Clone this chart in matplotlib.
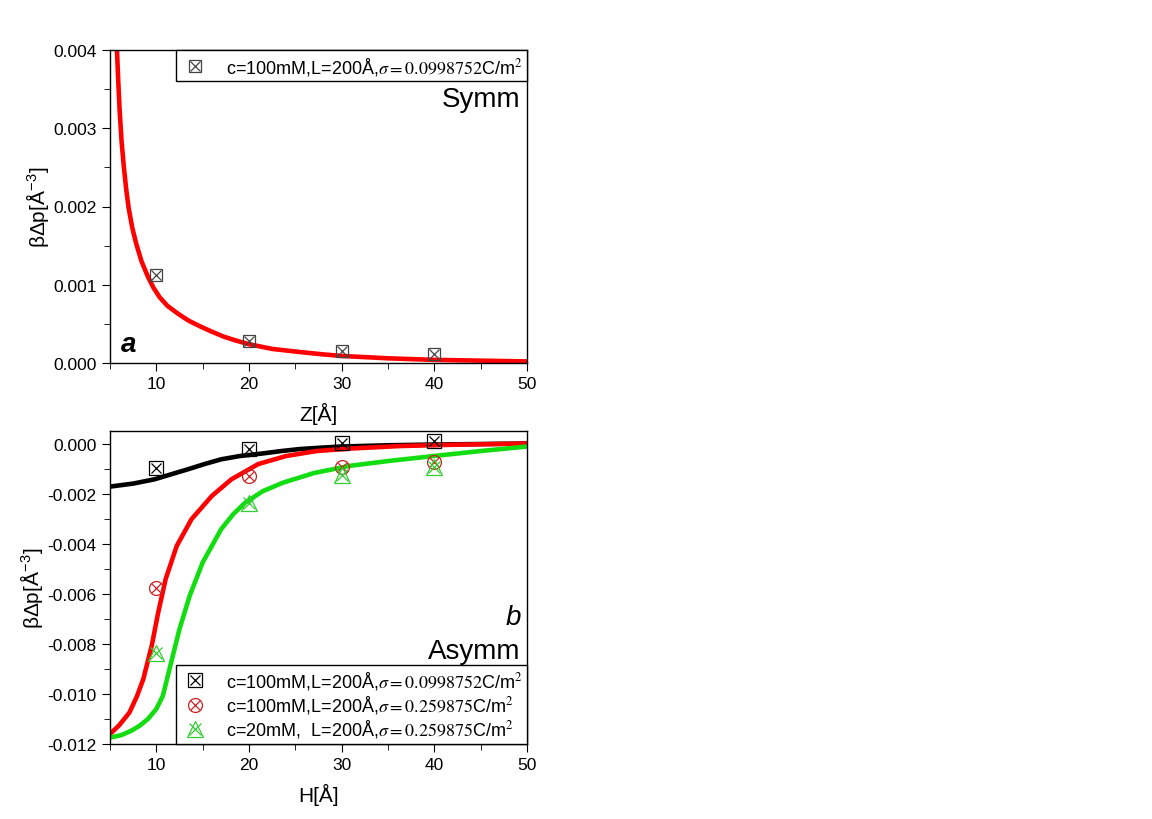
import matplotlib
matplotlib.use("Agg")
import matplotlib.pyplot as plt
from matplotlib.ticker import MultipleLocator, FormatStrFormatter
from matplotlib.legend_handler import HandlerTuple

plt.rcParams['font.family'] = ['Liberation Sans', 'DejaVu Sans']
plt.rcParams['mathtext.fontset'] = 'stix'

# panel a: symmetric
sym_H = [10, 20, 30, 40]
sym_p = [0.00113, 0.000285, 0.000153, 0.000115]
sym_fit_z = [5.75, 5.9, 6.04, 6.25, 6.5, 6.75, 7.0, 7.4, 7.84, 8.4, 9.1, 9.7, 10.36,
             11.2, 12.34, 13.5, 14.87, 16.0, 17.2, 18.5, 20.0, 22.5, 25.5, 28, 30,
             35, 40, 45, 50]
sym_fit_p = [0.0040, 0.00358, 0.00323, 0.00283, 0.0025, 0.00222, 0.00199, 0.00173,
             0.00152, 0.0013, 0.0011, 0.00096, 0.00084, 0.00073, 0.00063, 0.00054,
             0.00046, 0.0004, 0.00034, 0.00029, 0.00024, 0.00018, 0.00014, 0.00011,
             0.00009, 0.00006, 0.00004, 0.00003, 0.00002]

# panel b: asymmetric
asy_H = [10, 20, 30, 40]
black_p = [-0.00099, -0.00023, 0.00004, 0.0001]
red_p = [-0.00575, -0.00129, -0.00093, -0.00073]
green_p = [-0.00837, -0.00236, -0.00127, -0.00093]

black_fit_h = [5, 7.5, 9.8, 11.5, 13.4, 15.2, 17.0, 19.0, 21.4, 23.5, 25.5, 28,
               30, 35, 40, 50]
black_fit_p = [-0.00172, -0.0016, -0.00143, -0.00124, -0.00103, -0.00082, -0.00063,
               -0.0005, -0.0004, -0.0003, -0.00022, -0.00016, -0.00012, -0.00007,
               -0.00004, 0.0]

red_fit_h = [5, 6.0, 7.1, 7.9, 8.6, 9.5, 10.2, 11.0, 12.2, 13.8, 16.0, 18.1, 21.0,
             24, 27.3, 31, 36.3, 42, 50]
red_fit_p = [-0.0116, -0.01125, -0.01074, -0.0101, -0.0094, -0.00808, -0.00675,
             -0.00542, -0.00409, -0.00302, -0.00209, -0.00143, -0.00082,
             -0.0005, -0.0003, -0.0002, -0.0001, -0.00005, 0.0]

green_fit_h = [5, 6.2, 7.3, 8.2, 9.1, 10.0, 10.7, 11.6, 12.5, 13.6, 15.0, 17.0, 18.3,
               19.6, 21.5, 23.7, 27.0, 30.9, 35, 39.9, 45, 50]
green_fit_p = [-0.01174, -0.01165, -0.01147, -0.01127, -0.011, -0.0106, -0.01008,
               -0.00874, -0.00741, -0.00608, -0.00475, -0.00342, -0.00282,
               -0.00236, -0.0019, -0.00156, -0.00118, -0.00089, -0.0007, -0.0005,
               -0.0003, -0.00012]

labels_b = [r"c=100mM,L=200Å,$\sigma\mathrm{=0.0998752}$C/m$^2$",
            r"c=100mM,L=200Å,$\sigma\mathrm{=0.259875}$C/m$^2$",
            r"c=20mM,  L=200Å,$\sigma\mathrm{=0.259875}$C/m$^2$"]

fig = plt.figure(figsize=(11.52, 8.2), dpi=100)
ax1 = fig.add_axes([110 / 1152, 1 - 364 / 820, 417 / 1152, 313 / 820])
ax2 = fig.add_axes([110 / 1152, 1 - 745 / 820, 417 / 1152, 313 / 820])


def style(ax):
    ax.xaxis.set_major_locator(MultipleLocator(10))
    ax.xaxis.set_minor_locator(MultipleLocator(5))
    ax.tick_params(which='both', direction='out', labelsize=12.5, top=False, right=False)
    ax.tick_params(which='major', length=6)
    ax.tick_params(which='minor', length=4)
    for s in ax.spines.values():
        s.set_linewidth(1.0)


def xmark(ax, x, y, shape, color, ms):
    a, = ax.plot(x, y, shape, ls='none', mfc='none', mec=color, ms=ms, mew=0.9)
    b, = ax.plot(x, y, 'x', ls='none', color=color, ms=ms * 0.75, mew=0.9)
    return (a, b)


def curve(ax, x, y, color):
    ax.plot(x, y, color=color, lw=3.3, zorder=2,
            solid_joinstyle='round', solid_capstyle='butt')


legkw = dict(handler_map={tuple: HandlerTuple(ndivide=1)}, fontsize=13,
             fancybox=False, framealpha=1, edgecolor='black', borderaxespad=0,
             handletextpad=0.9, handlelength=1.6, borderpad=0.25, labelspacing=0.12)

# panel a
curve(ax1, sym_fit_z, sym_fit_p, '#ff0000')
h = xmark(ax1, sym_H, sym_p, 's', '#444444', 9)
ax1.set_xlim(5, 50)
ax1.set_ylim(0, 0.004)
ax1.yaxis.set_major_locator(MultipleLocator(0.001))
ax1.yaxis.set_minor_locator(MultipleLocator(0.0005))
ax1.yaxis.set_major_formatter(FormatStrFormatter('%.3f'))
style(ax1)
ax1.set_xlabel("Z[Å]", fontsize=15, labelpad=8)
ax1.set_ylabel(r"βΔp[Å$^{\mathregular{-3}}$]", fontsize=15, labelpad=2)
leg = ax1.legend([h], [labels_b[0]], loc='upper right', bbox_to_anchor=(1.0, 1.0), **legkw)
leg.get_frame().set_linewidth(1.0)
ax1.text(0.985, 0.843, "Symm", transform=ax1.transAxes, ha='right', va='center', fontsize=20)
ax1.text(0.025, 0.06, "a", transform=ax1.transAxes, ha='left', va='center', fontsize=20,
         style='italic', weight='bold')

# panel b
curve(ax2, black_fit_h, black_fit_p, 'black')
curve(ax2, red_fit_h, red_fit_p, '#ff0000')
curve(ax2, green_fit_h, green_fit_p, '#11dd11')
hb = xmark(ax2, asy_H, black_p, 's', 'black', 10)
hr = xmark(ax2, asy_H, red_p, 'o', '#cc2222', 10)
hg = xmark(ax2, asy_H, green_p, '^', '#33cc33', 12)
ax2.set_xlim(5, 50)
ax2.set_ylim(-0.012, 0.0005)
ax2.yaxis.set_major_locator(MultipleLocator(0.002))
ax2.yaxis.set_minor_locator(MultipleLocator(0.001))
ax2.yaxis.set_major_formatter(FormatStrFormatter('%.3f'))
style(ax2)
ax2.set_xlabel("H[Å]", fontsize=15, labelpad=8)
ax2.set_ylabel(r"βΔp[Å$^{\mathregular{-3}}$]", fontsize=15, labelpad=2)
leg2 = ax2.legend([hb, hr, hg], labels_b, loc='lower right', bbox_to_anchor=(1.0, 0.0), **legkw)
leg2.get_frame().set_linewidth(1.0)
ax2.text(0.985, 0.405, "b", transform=ax2.transAxes, ha='right', va='center', fontsize=20,
         style='italic')
ax2.text(0.985, 0.297, "Asymm", transform=ax2.transAxes, ha='right', va='center', fontsize=20)

fig.savefig("out.png", dpi=100)
